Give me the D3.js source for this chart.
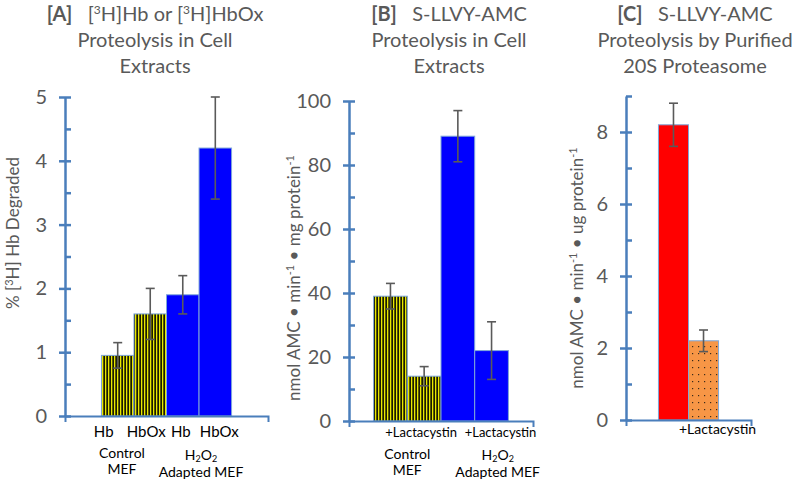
<!DOCTYPE html>
<html>
<head>
<meta charset="utf-8">
<script src="https://cdn.jsdelivr.net/npm/d3@7"></script>
<style>
  body { margin: 0; background: #fff; }
  svg text { font-family: Lato, "Open Sans", sans-serif; }
</style>
</head>
<body>
<div id="chart"></div>
<script>
// ---- data ----
var aLabels = ["Hb", "HbOx", "Hb", "HbOx"];
var aValues = [0.95, 1.6, 1.9, 4.2];
var aErrors = [0.2, 0.4, 0.3, 0.8];
var aFills = ["stripe", "stripe", "blue", "blue"];
var aTicks = [0, 1, 2, 3, 4, 5];

var bLabels = ["", "+Lactacystin", "", "+Lactacystin"];
var bValues = [39, 14, 89, 22];
var bErrors = [4, 3, 8, 9];
var bFills = ["stripe", "stripe", "blue", "blue"];
var bTicks = [0, 20, 40, 60, 80, 100];

var cLabels = ["", "+Lactacystin"];
var cValues = [8.2, 2.2];
var cErrors = [0.6, 0.3];
var cFills = ["red", "dots"];
var cTicks = [0, 2, 4, 6, 8];

var fillColors = {stripe: "url(#stripes)", blue: "#0000ff", red: "#ff0000", dots: "url(#dots)"};
var axisColor = "#4a7ebb";
var textGray = "#595959";

var svg = d3.select("#chart").append("svg")
  .attr("width", 800)
  .attr("height", 483);

// patterns
var defs = svg.append("defs");
var stripes = defs.append("pattern")
  .attr("id", "stripes")
  .attr("patternUnits", "userSpaceOnUse")
  .attr("width", 3).attr("height", 3);
stripes.append("rect").attr("width", 3).attr("height", 3).attr("fill", "#1a1a00");
stripes.append("rect").attr("width", 1.3).attr("height", 3).attr("fill", "#e8e800");

var dots = defs.append("pattern")
  .attr("id", "dots")
  .attr("patternUnits", "userSpaceOnUse")
  .attr("width", 6).attr("height", 7);
dots.append("rect").attr("width", 6).attr("height", 7).attr("fill", "#f79646");
dots.append("rect").attr("x", 2).attr("y", 3).attr("width", 1.2).attr("height", 1.2).attr("fill", "#3a2a1a");

// parts: [text, shift, fontSize?]; shift < 0 raises text, > 0 lowers it
function rich(sel, parts) {
  var cur = 0;
  parts.forEach(function(p) {
    var ts = sel.append("tspan").text(p[0]);
    var shift = p[1] || 0;
    if (shift !== cur) ts.attr("dy", shift - cur);
    if (p[2]) ts.style("font-size", p[2]);
    cur = shift;
  });
}

function drawPanel(p) {
  var g = svg.append("g");

  var y = d3.scaleLinear().domain([0, p.max]).range([p.y0, p.y1]);
  var x = d3.scaleBand()
    .domain(d3.range(p.values.length))
    .range([p.x0, p.x1])
    .paddingInner(0)
    .paddingOuter(p.pad);

  // titles
  var title = g.append("text")
    .attr("text-anchor", "middle")
    .attr("fill", textGray)
    .style("font-size", "20px");
  p.title(title, p.cx);

  // bars
  g.append("g").selectAll("rect")
    .data(p.values)
    .enter()
    .append("rect")
    .attr("x", function(d, i) { return x(i); })
    .attr("y", function(d) { return y(d); })
    .attr("width", x.bandwidth())
    .attr("height", function(d) { return y(0) - y(d); })
    .attr("fill", function(d, i) { return fillColors[p.fills[i]]; })
    .attr("stroke", "#7fa7d9")
    .attr("stroke-width", 1);

  // error bars
  var err = g.append("g").attr("stroke", "#5a5a5a").attr("stroke-width", 1.6);
  p.values.forEach(function(v, i) {
    var cx = x(i) + x.bandwidth() / 2;
    var e = p.errors[i];
    err.append("line").attr("x1", cx).attr("x2", cx).attr("y1", y(v + e)).attr("y2", y(v - e));
    err.append("line").attr("x1", cx - 4.5).attr("x2", cx + 4.5).attr("y1", y(v + e)).attr("y2", y(v + e));
    err.append("line").attr("x1", cx - 4.5).attr("x2", cx + 4.5).attr("y1", y(v - e)).attr("y2", y(v - e));
  });

  // y axis: major ticks cross the line, minor ticks inside
  var yAxis = g.append("g")
    .attr("transform", "translate(" + p.x0 + ",0)")
    .call(d3.axisLeft(y).tickValues(p.ticks).tickFormat(d3.format("d"))
      .tickSize(6).tickSizeOuter(0).tickPadding(12));
  yAxis.selectAll(".tick line").attr("x1", 6);
  yAxis.select(".domain").attr("stroke", axisColor).attr("stroke-width", 2.5);
  yAxis.selectAll(".tick line").attr("stroke", axisColor).attr("stroke-width", 2.5);
  yAxis.selectAll(".tick text").attr("fill", textGray).style("font-size", "20px");

  var minor = g.append("g")
    .attr("transform", "translate(" + p.x0 + ",0)")
    .call(d3.axisRight(y).tickValues(p.minor).tickSize(6).tickSizeOuter(0).tickFormat(""));
  minor.select(".domain").remove();
  minor.selectAll(".tick line").attr("stroke", axisColor).attr("stroke-width", 2.5);

  // x axis
  var xAxis = g.append("g")
    .attr("transform", "translate(0," + p.y0 + ")")
    .call(d3.axisBottom(x).tickValues([]).tickSizeOuter(6));
  xAxis.select(".domain").attr("stroke", axisColor).attr("stroke-width", 2);

  // category labels
  g.append("g").selectAll("text")
    .data(p.labels)
    .enter()
    .append("text")
    .attr("x", function(d, i) { return x(i) + x.bandwidth() / 2 + p.labelDx[i]; })
    .attr("y", p.labelY)
    .attr("text-anchor", "middle")
    .attr("fill", "#000")
    .style("font-size", p.labelSize)
    .text(function(d) { return d; });

  // group labels
  if (p.groupY) {
    var gy = p.groupY;
    var gl = g.append("g").attr("fill", "#000").style("font-size", "14px").attr("text-anchor", "middle");
    var c1 = x(1) + p.groupDx[0];
    var c2 = x(3) + p.groupDx[1];
    gl.append("text").attr("x", c1).attr("y", gy[0]).text("Control");
    gl.append("text").attr("x", c1).attr("y", gy[1]).text("MEF");
    var h = gl.append("text").attr("x", c2).attr("y", gy[2]);
    rich(h, [["H", 0], ["2", 2, "9px"], ["O", 0], ["2", 2, "9px"]]);
    gl.append("text").attr("x", c2).attr("y", gy[3]).text("Adapted MEF");
  }

  // y axis title
  var yl = g.append("text")
    .attr("transform", "translate(" + p.ylx + "," + p.yly + ") rotate(-90)")
    .attr("text-anchor", "middle")
    .attr("fill", textGray)
    .style("font-size", "17px");
  p.ylabel(yl);
}

drawPanel({
  values: aValues, errors: aErrors, fills: aFills, labels: aLabels, ticks: aTicks,
  minor: [0.5, 1.5, 2.5, 3.5, 4.5], max: 5,
  x0: 65, x1: 268, y0: 416, y1: 97, pad: 1.12, cx: 155,
  labelY: 437, labelSize: "15px", labelDx: [-14, -4, -2, 4],
  groupY: [458, 474, 460, 477], groupDx: [-12, 2],
  ylx: 19, yly: 233,
  title: function(t, cx) {
    var l1 = t.append("tspan").attr("x", cx).attr("y", 21);
    l1.append("tspan").style("font-weight", "bold").text("[A]");
    rich(l1, [["\u00a0\u00a0 [", 0], ["3", -7, "12px"], ["H]Hb or [", 0], ["3", -7, "12px"], ["H]HbOx", 0]]);
    t.append("tspan").attr("x", cx).attr("y", 47).text("Proteolysis in Cell");
    t.append("tspan").attr("x", cx).attr("y", 73).text("Extracts");
  },
  ylabel: function(t) {
    rich(t, [["% [", 0], ["3", -6, "11px"], ["H] Hb Degraded", 0]]);
  }
});

drawPanel({
  values: bValues, errors: bErrors, fills: bFills, labels: bLabels, ticks: bTicks,
  minor: [10, 30, 50, 70, 90], max: 100,
  x0: 349, x1: 533, y0: 421, y1: 101, pad: 0.73, cx: 449,
  labelY: 437, labelSize: "13px", labelDx: [0, -3, 0, 9],
  groupY: [459, 475, 460, 477], groupDx: [0, 23],
  ylx: 300, yly: 278,
  title: function(t, cx) {
    var l1 = t.append("tspan").attr("x", cx).attr("y", 21);
    l1.append("tspan").style("font-weight", "bold").text("[B]");
    l1.append("tspan").text("\u00a0\u00a0 S-LLVY-AMC");
    t.append("tspan").attr("x", cx).attr("y", 47).text("Proteolysis in Cell");
    t.append("tspan").attr("x", cx).attr("y", 73).text("Extracts");
  },
  ylabel: function(t) {
    rich(t, [["nmol AMC \u2022 min", 0], ["-1", -6, "11px"], [" \u2022 mg protein", 0], ["-1", -6, "11px"]]);
  }
});

drawPanel({
  values: cValues, errors: cErrors, fills: cFills, labels: cLabels, ticks: cTicks,
  minor: [1, 3, 5, 7, 9], max: 9,
  x0: 626, x1: 751, y0: 420, y1: 96, pad: 1.08, cx: 695,
  labelY: 434, labelSize: "14px", labelDx: [0, 14],
  groupY: null,
  ylx: 583, yly: 268,
  title: function(t, cx) {
    var l1 = t.append("tspan").attr("x", cx).attr("y", 21);
    l1.append("tspan").style("font-weight", "bold").text("[C]");
    l1.append("tspan").text("\u00a0\u00a0 S-LLVY-AMC");
    t.append("tspan").attr("x", cx).attr("y", 47).text("Proteolysis by Purified");
    t.append("tspan").attr("x", cx).attr("y", 73).text("20S Proteasome");
  },
  ylabel: function(t) {
    rich(t, [["nmol AMC \u2022 min", 0], ["-1", -6, "11px"], [" \u2022 ug protein", 0], ["-1", -6, "11px"]]);
  }
});
</script>
</body>
</html>
